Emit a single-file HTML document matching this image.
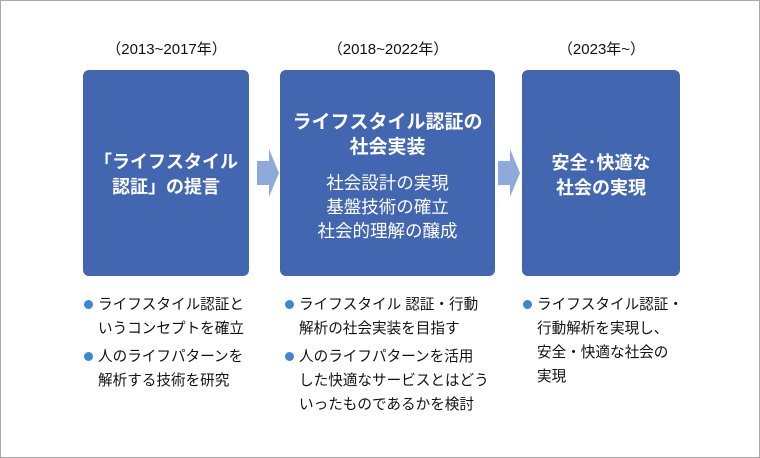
<!DOCTYPE html>
<html><head><meta charset="utf-8"><style>
html,body{margin:0;padding:0;background:#fff}
#c{position:relative;width:758px;height:456px;border:1px solid #a8a8a8;overflow:hidden;font-family:"Liberation Sans","Noto Sans CJK JP",sans-serif;color:#111}
.t{position:absolute;white-space:nowrap}
.yr{font-size:15px;top:37px;text-align:center}
.box{position:absolute;background:#4266b0;border-radius:6px}
.w{color:#fff;font-weight:bold;text-align:center;position:absolute;left:0;right:0}
.s{color:#fff;text-align:center;position:absolute;left:0;right:0;font-size:17.5px}
.b{position:absolute;font-size:14.6px;line-height:24px;white-space:nowrap}
.d{position:absolute;width:9px;height:9px;border-radius:50%;background:#3f86cc}
</style></head><body><div id="c">
<div class="t yr" style="left:83px;width:165px">（2013~2017年）</div>
<div class="t yr" style="left:280px;width:214px">（2018~2022年）</div>
<div class="t yr" style="left:522px;width:157px">（2023年~）</div>

<div class="box" style="left:82px;top:69px;width:166px;height:206px">
 <div class="w" style="top:80px;font-size:18px;line-height:25px">「ライフスタイル<br>認証」の提言</div>
</div>
<div class="box" style="left:279px;top:69px;width:215px;height:206px">
 <div class="w" style="top:40px;font-size:19px;line-height:25px">ライフスタイル認証の<br>社会実装</div>
 <div class="s" style="top:101px;line-height:24px">社会設計の実現<br>基盤技術の確立<br>社会的理解の醸成</div>
</div>
<div class="box" style="left:521px;top:69px;width:158px;height:206px">
 <div class="w" style="top:81px;font-size:18px;line-height:25px">安全･快適な<br>社会の実現</div>
</div>

<svg style="position:absolute;left:0;top:0" width="760" height="458">
<polygon points="256,160 268,160 268,148 278,172 268,196 268,184 256,184" fill="#8eaadb"/>
<polygon points="497,160 509,160 509,148 519,172 509,196 509,184 497,184" fill="#8eaadb"/>
</svg>

<div class="d" style="left:83px;top:299px"></div>
<div class="b" style="left:97px;top:292px">ライフスタイル認証と<br>いうコンセプトを確立</div>
<div class="d" style="left:83px;top:351px"></div>
<div class="b" style="left:97px;top:344px">人のライフパターンを<br>解析する技術を研究</div>

<div class="d" style="left:284px;top:299px"></div>
<div class="b" style="left:298px;top:292px">ライフスタイル 認証・行動<br>解析の社会実装を目指す</div>
<div class="d" style="left:284px;top:351px"></div>
<div class="b" style="left:298px;top:344px">人のライフパターンを活用<br>した快適なサービスとはどう<br>いったものであるかを検討</div>

<div class="d" style="left:522px;top:299px"></div>
<div class="b" style="left:536px;top:292px">ライフスタイル認証・<br>行動解析を実現し、<br>安全・快適な社会の<br>実現</div>
</div></body></html>
